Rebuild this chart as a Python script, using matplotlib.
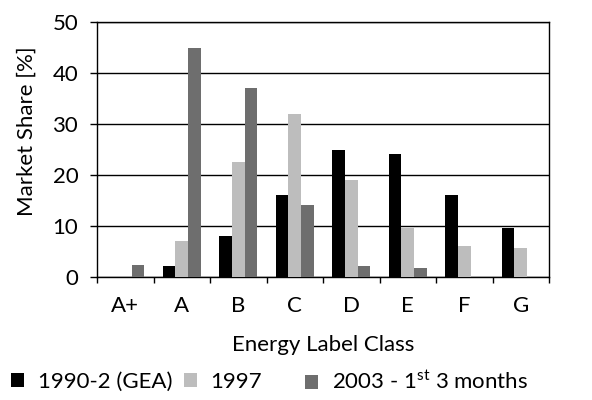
import numpy as np
import matplotlib
matplotlib.use("Agg")
import matplotlib.pyplot as plt

plt.rcParams['font.family'] = ['Lato', 'DejaVu Sans']
plt.rcParams['mathtext.fontset'] = 'custom'
plt.rcParams['mathtext.rm'] = 'Lato'

# data
classes = ['A+', 'A', 'B', 'C', 'D', 'E', 'F', 'G']
gea_1990 = [0, 2.2, 8.0, 16.1, 24.9, 24.1, 16.1, 9.6]
y_1997 = [0, 7.1, 22.5, 32.0, 19.0, 9.6, 6.1, 5.7]
y_2003 = [2.35, 44.9, 37.1, 14.1, 2.2, 1.8, 0, 0]

series = [
    ('1990-2 (GEA)', gea_1990, '#000000'),
    ('1997', y_1997, '#bdbdbd'),
    (r'2003 - 1$^{\mathrm{st}}$ 3 months', y_2003, '#6e6e6e'),
]
legend_x = [11, 184, 305]   # pixel x of each legend entry

fs = 16
fig = plt.figure(figsize=(5.92, 4.0), dpi=100)
ax = fig.add_axes([97 / 592, 1 - 277 / 400, 452 / 592, 255 / 400])

x = np.arange(len(classes))
w = 0.225
bars = []
for i, (name, vals, col) in enumerate(series):
    bars.append(ax.bar(x + (i - 1) * w, vals, width=w, color=col, label=name, zorder=3))

ax.set_xlim(-0.5, len(classes) - 0.5)
ax.set_ylim(0, 50)
ax.set_yticks(range(0, 51, 10))
ax.set_xticks(x)
ax.set_xticklabels(classes)
ax.set_xticks(np.arange(-0.5, len(classes), 1), minor=True)
ax.tick_params(axis='x', which='major', length=0, labelsize=fs, pad=13.5)
ax.tick_params(axis='x', which='minor', length=4, width=1, direction='out')
ax.tick_params(axis='y', length=5, width=1, direction='out', labelsize=fs, pad=8.5)
ax.yaxis.grid(True, color='black', linewidth=1, zorder=0)
for s in ax.spines.values():
    s.set_linewidth(1)

ax.set_xlabel('Energy Label Class', fontsize=fs, labelpad=14)
ax.set_ylabel('Market Share [%]', fontsize=fs)
ax.yaxis.set_label_coords(-0.133, 0.573)

for (name, vals, col), b, lx in zip(series, bars, legend_x):
    leg = fig.legend([b], [name], loc='center left',
                     bbox_to_anchor=(lx / 592, 1 - 382 / 400), frameon=False,
                     fontsize=fs, handlelength=0.6, handleheight=0.6,
                     handletextpad=0.6, borderaxespad=0, borderpad=0)

fig.savefig('out.png', dpi=100)
